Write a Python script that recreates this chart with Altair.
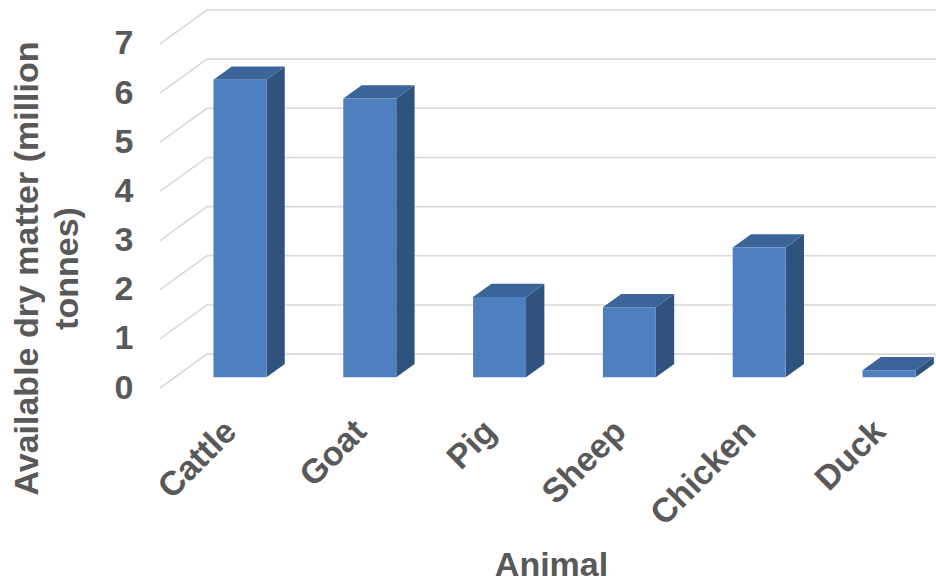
import altair as alt
import pandas as pd

# Available dry matter by animal (million tonnes)
animals = ["Cattle", "Goat", "Pig", "Sheep", "Chicken", "Duck"]
dry_matter = [6.05, 5.67, 1.63, 1.42, 2.64, 0.14]
y_ticks = [0, 1, 2, 3, 4, 5, 6, 7]

# Oblique projection of the depth axis, expressed in data units
DEPTH_X = 0.362      # horizontal shift from the front wall to the back wall
DEPTH_Y = 0.69       # vertical shift from the front wall to the back wall
BAR_FRONT = 0.32     # depth fraction of a column's front face
BAR_BACK = 0.71      # depth fraction of a column's back face
HALF_W = 0.204       # half the width of a column
LABEL_SHIFT = -0.07  # category labels sit a little left of the column centres
X_MIN, X_MAX = -0.5, 5.478
Y_MAX = 7.69

FONT = "Liberation Sans"
TEXT = "#595959"
FRONT_C = "#4e7fbe"
TOP_C = "#3b6598"
SIDE_C = "#30527f"
GRID_C = "#d9d9d9"

# Grid lines: a slanted stretch along the side wall, then flat along the back wall
grid_rows = []
for k in y_ticks:
    grid_rows.append({"k": k, "x": X_MIN, "y": k})
    grid_rows.append({"k": k, "x": X_MIN + DEPTH_X, "y": k + DEPTH_Y})
    grid_rows.append({"k": k, "x": X_MAX, "y": k + DEPTH_Y})
grid_df = pd.DataFrame(grid_rows)

shift_x = (BAR_BACK - BAR_FRONT) * DEPTH_X
front_rows, top_rows, side_rows = [], [], []
for i, (name, v) in enumerate(zip(animals, dry_matter)):
    c = i + BAR_FRONT * DEPTH_X
    y_front = BAR_FRONT * DEPTH_Y
    y_back = BAR_BACK * DEPTH_Y
    front_rows.append({"animal": name, "x": c - HALF_W, "x2": c + HALF_W,
                       "y": y_front, "y2": v + y_front})
    top_rows.append({"animal": name, "y": v + y_front,
                     "x": c - HALF_W, "x2": c + HALF_W})
    top_rows.append({"animal": name, "y": v + y_back,
                     "x": c - HALF_W + shift_x, "x2": c + HALF_W + shift_x})
    side_rows.append({"animal": name, "x": c + HALF_W,
                      "y": y_front, "y2": v + y_front})
    side_rows.append({"animal": name, "x": c + HALF_W + shift_x,
                      "y": y_back, "y2": v + y_back})
front_df = pd.DataFrame(front_rows)
top_df = pd.DataFrame(top_rows)
side_df = pd.DataFrame(side_rows)

x_scale = alt.Scale(domain=[X_MIN, X_MAX], nice=False, zero=False)
y_scale = alt.Scale(domain=[0, Y_MAX], nice=False, zero=False)

label_array = "[" + ",".join("'%s'" % a for a in animals) + "]"
x_axis = alt.Axis(
    values=[i + BAR_FRONT * DEPTH_X + LABEL_SHIFT for i in range(len(animals))],
    labelExpr=label_array + "[round(datum.value)]",
    labelAngle=315, labelAlign="right", labelBaseline="middle",
    labelPadding=38, labelFont=FONT, labelFontSize=34, labelFontWeight="bold",
    labelColor=TEXT, labelFlush=False, labelOverlap=False, labelBound=False,
    ticks=False, tickSize=0, domain=False, grid=False,
    title="Animal", titleFont=FONT, titleFontSize=34, titleFontWeight="bold",
    titleColor=TEXT, titleX=391, titleY=187, titleAlign="center",
    titleBaseline="alphabetic",
)
y_axis = alt.Axis(
    values=y_ticks, format="d",
    labelPadding=27, labelFont=FONT, labelFontSize=34, labelFontWeight="bold",
    labelColor=TEXT, labelFlush=False, labelOverlap=False,
    ticks=False, tickSize=0, domain=False, grid=False,
    title=["Available dry matter (million", "tonnes)"],
    titleFont=FONT, titleFontSize=34, titleFontWeight="bold", titleColor=TEXT,
    titleAngle=270, titleX=-123, titleY=258, titleAlign="center",
    titleBaseline="alphabetic", titleLineHeight=40,
)

X = alt.X("x:Q", scale=x_scale, axis=x_axis)
Y = alt.Y("y:Q", scale=y_scale, axis=y_axis)

grid = alt.Chart(grid_df).mark_line(color=GRID_C, strokeWidth=1.6).encode(
    x=X, y=Y, detail="k:N"
)

side = alt.Chart(side_df).mark_area(color=SIDE_C, orient="vertical").encode(
    x=X, y=Y, y2="y2:Q", detail="animal:N"
)

top = alt.Chart(top_df).mark_area(color=TOP_C, orient="horizontal").encode(
    y=Y, x=X, x2="x2:Q", detail="animal:N"
)

front = alt.Chart(front_df).mark_rect(color=FRONT_C).encode(
    x=X, x2="x2:Q", y=Y, y2="y2:Q"
)

chart = alt.layer(grid, side, top, front).properties(
    width=776,
    height=378,
    padding={"left": 160, "top": 10, "right": 0, "bottom": 193},
    autosize=alt.AutoSizeParams(type="none"),
    background="white",
).configure_view(stroke=None)

chart.save("out.html", embed_options={"renderer": "svg", "actions": False})
